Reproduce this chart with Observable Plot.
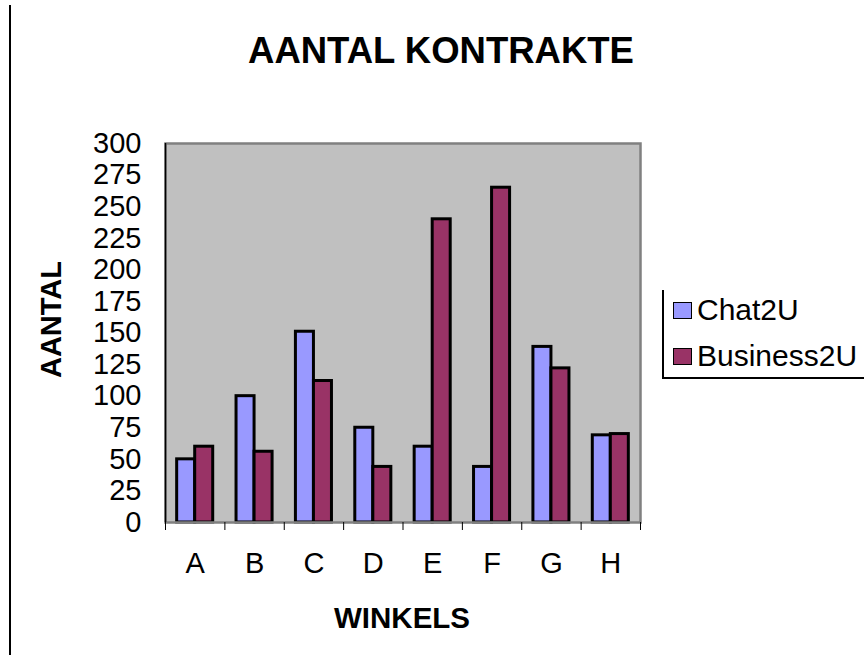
<!DOCTYPE html>
<html>
<head>
<meta charset="utf-8">
<script src="https://cdn.jsdelivr.net/npm/d3@7"></script>
<script src="https://cdn.jsdelivr.net/npm/@observablehq/plot@0.6"></script>
<style>
  html, body { margin: 0; padding: 0; background: #fff; }
  #wrap { position: relative; width: 864px; height: 661px; overflow: hidden; font-family: "Liberation Sans", Arial, sans-serif; color: #000; }
  #chart { position: absolute; left: 0; top: 0; }
  .abs { position: absolute; line-height: 1; white-space: nowrap; }
</style>
</head>
<body>
<div id="wrap">
  <div id="chart"></div>
  <div class="abs" style="left:9px;top:5px;width:1.5px;height:650px;background:#000"></div>
  <div class="abs" id="title" style="left:241px;top:33px;width:400px;text-align:center;font-size:36.5px;font-weight:bold">AANTAL KONTRAKTE</div>
  <div class="abs" id="ylab" style="left:-49px;top:305px;width:200px;text-align:center;font-size:29px;font-weight:bold;transform:rotate(-90deg)">AANTAL</div>
  <div class="abs" id="xlab" style="left:252px;top:603px;width:300px;text-align:center;font-size:29.5px;font-weight:bold">WINKELS</div>
  <div id="legend"></div>
</div>
<script>
const categories = ["A", "B", "C", "D", "E", "F", "G", "H"];
const seriesNames = ["Chat2U", "Business2U"];
const chat2u = [50, 100, 151, 75, 60, 44, 139, 69];
const business2u = [60, 56, 112, 44, 240, 265, 122, 70];
const yTicks = [0, 25, 50, 75, 100, 125, 150, 175, 200, 225, 250, 275, 300];
const colors = ["#9999FF", "#993366"];

const groupPad = 0.1965; // fraction of each category band left empty on each side
const rows = [];
categories.forEach((c, i) => {
  rows.push({cat: c, i, series: seriesNames[0], value: chat2u[i], x1: i + groupPad, x2: i + 0.5});
  rows.push({cat: c, i, series: seriesNames[1], value: business2u[i], x1: i + 0.5, x2: i + 1 - groupPad});
});

const chart = Plot.plot({
  width: 864,
  height: 661,
  marginLeft: 165,
  marginRight: 224,
  marginTop: 143,
  marginBottom: 139,
  style: {fontFamily: "'Liberation Sans', Arial, sans-serif", color: "#000", background: "transparent"},
  x: {domain: [0, categories.length], axis: null},
  y: {domain: [0, 300], axis: null},
  color: {domain: seriesNames, range: colors},
  marks: [
    Plot.frame({fill: "#C0C0C0", stroke: null}),
    Plot.rectY(rows, {x1: "x1", x2: "x2", y: "value", fill: "series", stroke: "#000", strokeWidth: 3}),
    Plot.frame({stroke: "#808080", strokeWidth: 2.5, fill: null}),
    Plot.ruleX([0], {stroke: "#000", strokeWidth: 1.5}),
    Plot.axisY({ticks: yTicks, tickSize: 0, tickPadding: 24, fontSize: 29, anchor: "left", label: null}),
    Plot.axisX({ticks: d3.range(0, categories.length + 1), tickSize: 8, tickFormat: () => "", stroke: "#000", anchor: "bottom", label: null}),
    Plot.axisX({ticks: categories.map((c, i) => i + 0.5), tickSize: 0, tickPadding: 30, fontSize: 29, tickFormat: v => categories[Math.floor(v)], anchor: "bottom", label: null})
  ]
});
document.getElementById("chart").appendChild(chart);

// Legend
const legend = document.getElementById("legend");
legend.innerHTML = `
  <div class="abs" style="left:662px;top:290px;width:1.5px;height:88px;background:#000"></div>
  <div class="abs" style="left:662px;top:377px;width:210px;height:1.5px;background:#000"></div>
` + seriesNames.map((s, k) => `
  <div class="abs" style="left:673px;top:${302 + k * 46}px;width:17px;height:15px;background:${colors[k]};border:1.5px solid #000"></div>
  <div class="abs" style="left:697px;top:${295 + k * 46}px;font-size:30px">${s}</div>
`).join("");
</script>
</body>
</html>
